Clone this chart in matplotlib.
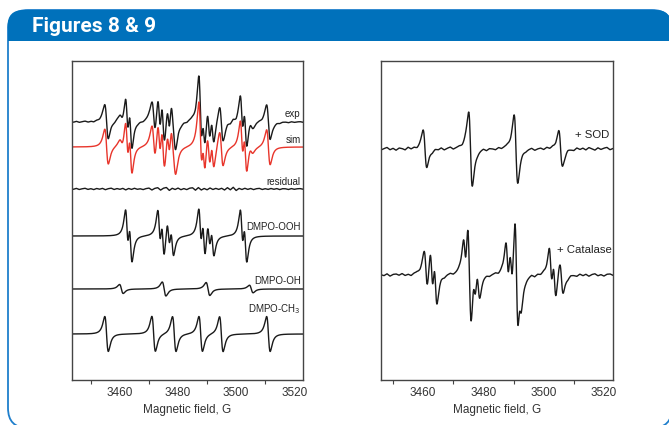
import numpy as np
import matplotlib
matplotlib.use("Agg")
import matplotlib.pyplot as plt
from matplotlib.patches import FancyBboxPatch, Rectangle
from matplotlib.ticker import FixedLocator

plt.rcParams['font.family'] = ['Liberation Sans', 'DejaVu Sans']

# --- Figure 8: line positions (G) and peak heights (px) ---
OOH_FIELD = [3462.4, 3463.7, 3473.5, 3474.8, 3476.7, 3478.0,
             3487.6, 3488.9, 3490.6, 3491.9, 3501.9, 3503.2]
OOH_AMP = [21, 21, 20, 20, 15, 15, 21, 21, 15, 15, 21, 21]
OH_FIELD = [3460.5, 3475.2, 3490.3, 3505.2]
OH_AMP = [4.5, 7.0, 6.5, 3.8]
CH3_FIELD = [3455.4, 3471.6, 3478.7, 3487.8, 3494.9, 3511.1]
CH3_AMP = [17.5, 17.5, 17.5, 17.5, 17.5, 17.5]

# noise traces, one value per gauss starting at 3443 G
RESIDUAL = [0.4, -0.3, 0.6, -0.5, 0.2, 0.7, -0.4, 0.3, -0.6, 0.5,
            -0.2, 0.6, -0.7, 0.3, 0.8, -0.5, 0.4, -0.3, 0.6, -0.9,
            0.5, -0.4, 0.7, -0.3, 0.2, -0.6, 0.4, 0.9, -1.0, 0.6,
            1.3, -1.1, 0.8, 1.5, -1.4, 0.7, -0.5, 0.9, -0.7, 0.4,
            -0.6, 0.8, 1.2, -1.2, 1.4, -1.0, 0.5, -0.8, 1.0, -0.5,
            0.6, -0.4, 0.7, -1.0, 1.3, -0.8, 1.7, -1.5, 0.6, -0.5,
            0.7, -0.4, 0.5, -0.6, 0.3, 0.6, -0.5, 0.3, -0.4, 0.5,
            -0.3, 0.4, -0.6, 0.3, 0.2, -0.5, 0.4, -0.3, 0.2, 0.4, -0.2]

# --- Figure 9 ---
SOD_FIELD = [3460.6, 3475.7, 3490.8, 3505.6]
SOD_AMP = [18, 38, 34, 18]
SOD_NOISE = [0.8, -0.6, 1.2, -1.0, 0.4, 1.5, -0.8, 0.6, -1.3, 0.9,
             0.3, -1.1, 1.4, -0.5, 0.7, -1.2, 0.2, 1.0, -0.9, 0.5,
             -1.4, 0.8, -0.3, 1.3, -0.9, 0.6, 1.6, -0.7, 0.4, 1.1,
             -0.6, 0.9, -1.2, 0.5, 1.4, -0.8, 0.3, 1.2, -1.0, 0.7,
             0.2, -0.9, 1.1, -0.4, 0.8, 1.5, -0.6, 0.4, -1.1, 0.9,
             1.2, -0.5, 0.6, 1.4, -1.0, 0.3, 0.9, -0.7, 1.3, -0.4,
             0.8, -1.2, 0.5, 1.1, -0.6, 1.6, 0.2, -0.9, 1.4, -0.3,
             1.0, -0.8, 1.5, 0.3, -1.1, 1.2, -0.4, 0.9, 1.6, -0.7, 0.5]

CAT_OOH_FIELD = [3462.8, 3464.1, 3473.8, 3475.1, 3477.0, 3478.3,
                 3487.9, 3489.2, 3490.9, 3492.2, 3502.3, 3503.6]
CAT_OOH_AMP = [23, 23, 21, 21, 15, 15, 23, 23, 15, 15, 21, 21]
CAT_OH_FIELD = [3460.9, 3475.5, 3491.0, 3505.9]
CAT_OH_AMP = [20, 40, 46, 16]
CAT_NOISE = [0.6, -0.9, 1.3, 0.2, -0.7, 1.1, -1.2, 0.5, 0.9, -0.4,
             1.2, -0.8, 0.3, -1.3, 0.7, 1.0, -0.5, 0.8, -1.0, 0.6,
             -0.8, 1.1, -0.4, 0.9, -1.2, 0.5, 1.3, -0.6, 0.2, 1.2,
             -0.9, 0.7, -1.1, 1.4, -0.5, 0.8, -1.3, 0.6, 1.0, -0.7,
             0.4, 1.2, -0.9, 0.6, -1.0, 1.3, -0.4, 0.9, -1.2, 0.5,
             1.1, -0.6, 0.3, 1.4, -1.1, 0.7, -0.5, 1.2, -0.8, 0.4,
             -1.0, 0.9, 1.3, -0.6, 0.5, -1.2, 1.0, 0.3, -0.8, 1.2,
             -0.5, 0.9, -1.1, 0.6, 1.3, -0.7, 0.4, -1.0, 0.8, 1.1, -0.3]

LEFT_LABELS = ["exp", "sim", "residual", "DMPO-OOH", "DMPO-OH", "DMPO-CH$_3$"]
RIGHT_LABELS = ["+ SOD", "+ Catalase"]
XTICKS = [3460, 3480, 3500, 3520]
XMINOR = [3450, 3470, 3490, 3510]

BLUE = '#0071BB'
RED = '#E8352B'
INK = '#1a1a1a'


def first_derivative(field, centers, amps, width):
    # lorentzian first-derivative lines, scaled so each lobe peaks at amp
    y = np.zeros_like(field)
    for c, a in zip(centers, amps):
        u = (field - c) / width
        y += a * (-u / (1 + u ** 2) ** 2) / 0.3248
    return y


B = np.arange(3440, 3526, 0.05)
noise_B = 3443 + np.arange(len(RESIDUAL))

ooh = first_derivative(B, OOH_FIELD, OOH_AMP, 0.88)
oh = first_derivative(B, OH_FIELD, OH_AMP, 1.1)
ch3 = first_derivative(B, CH3_FIELD, CH3_AMP, 1.05)
sim = ooh + oh + ch3
exp = sim + np.interp(B, noise_B, RESIDUAL)

sod = first_derivative(B, SOD_FIELD, SOD_AMP, 1.05) + np.interp(B, noise_B, SOD_NOISE)
cat = (first_derivative(B, CAT_OOH_FIELD, CAT_OOH_AMP, 0.88)
       + first_derivative(B, CAT_OH_FIELD, CAT_OH_AMP, 1.0)
       + np.interp(B, noise_B, CAT_NOISE))

fig = plt.figure(figsize=(6.69, 4.25), dpi=100)

# page frame with the blue header
bg = fig.add_axes([0, 0, 1, 1], zorder=-5)
bg.set_xlim(0, 669)
bg.set_ylim(425, 0)
bg.axis('off')
bg.add_patch(FancyBboxPatch((8, 10), 664, 418, boxstyle='round,pad=0,rounding_size=20',
                            fc='white', ec='#1f7fcc', lw=1.3))
bg.add_patch(FancyBboxPatch((7.5, 10), 664, 31, boxstyle='round,pad=0,rounding_size=16',
                            fc=BLUE, ec='none'))
bg.add_patch(Rectangle((7.5, 26), 664, 15, fc=BLUE, ec='none'))
bg.text(32, 26.5, "Figures 8 & 9", color='white', fontsize=15, fontweight='bold',
        family=['Liberation Sans Narrow', 'Roboto', 'DejaVu Sans'], va='center', ha='left')


def style_axes(ax, xlim):
    ax.set_xlim(*xlim)
    ax.set_ylim(0, 319)
    ax.set_yticks([])
    ax.set_xticks(XTICKS)
    ax.xaxis.set_minor_locator(FixedLocator(XMINOR))
    ax.tick_params(axis='x', which='major', length=0, pad=5, labelsize=8.5, labelcolor='#333333')
    ax.tick_params(axis='x', which='minor', direction='out', length=3, width=0.8, color='#444444')
    for s in ax.spines.values():
        s.set_color('#444444')
        s.set_linewidth(1.0)
    ax.set_xlabel("Magnetic field, G", fontsize=8.5, color='#333333', labelpad=4)


# Figure 8: experimental, simulated, residual and component spectra
ax1 = fig.add_axes([0.1076, 0.1059, 0.3453, 0.7506])
left_offsets = [258, 233, 191, 144, 91, 46]
left_label_y = [266, 240, 198, 153, 99, 71]
ax1.plot(B, exp + left_offsets[0], color=INK, lw=1.0)
ax1.plot(B, sim + left_offsets[1], color=RED, lw=1.0)
ax1.plot(noise_B, np.array(RESIDUAL) + left_offsets[2], color=INK, lw=1.0)
ax1.plot(B, ooh + left_offsets[3], color=INK, lw=1.0)
ax1.plot(B, oh + left_offsets[4], color=INK, lw=1.0)
ax1.plot(B, ch3 + left_offsets[5], color=INK, lw=1.0)
for lab, yl in zip(LEFT_LABELS, left_label_y):
    ax1.text(0.99, yl, lab, transform=ax1.get_yaxis_transform(), ha='right', va='center',
             fontsize=7, family=['Liberation Sans', 'DejaVu Sans'], color='#222222')
style_axes(ax1, (3443.5, 3523))

# Figure 9: + SOD and + catalase
ax2 = fig.add_axes([0.5695, 0.1059, 0.3468, 0.7506])
ax2.plot(B, sod + 231, color=INK, lw=1.0)
ax2.plot(B, cat + 105, color=INK, lw=1.0)
ax2.text(0.983, 245, RIGHT_LABELS[0], transform=ax2.get_yaxis_transform(), ha='right',
         va='center', fontsize=8.2, color='#222222')
ax2.text(0.995, 130, RIGHT_LABELS[1], transform=ax2.get_yaxis_transform(), ha='right',
         va='center', fontsize=8.2, color='#222222')
style_axes(ax2, (3446, 3523))

fig.savefig("out.png", dpi=100)
